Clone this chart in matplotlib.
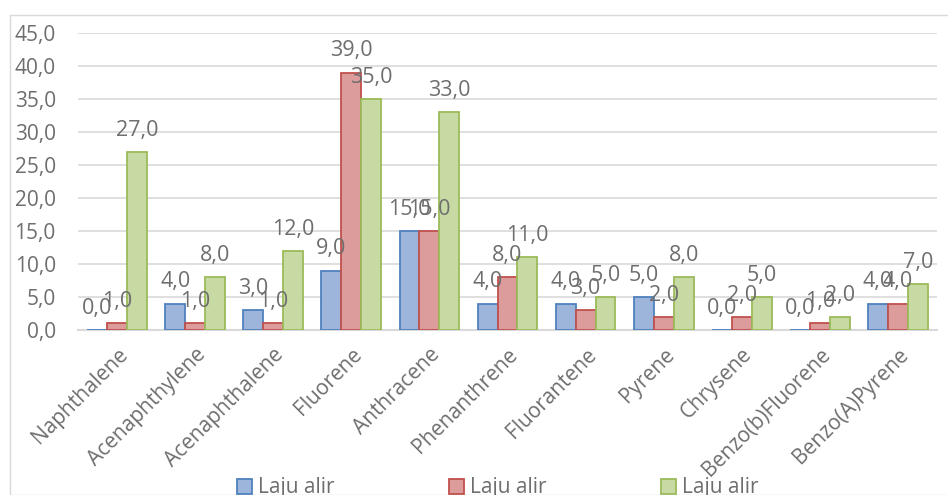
import matplotlib.pyplot as plt
import numpy as np
from matplotlib.patches import Rectangle, Patch

plt.rcParams["font.family"] = ["Open Sans", "DejaVu Sans"]

categories = ["Naphthalene", "Acenaphthylene", "Acenaphthalene", "Fluorene",
              "Anthracene", "Phenanthrene", "Fluorantene", "Pyrene",
              "Chrysene", "Benzo(b)Fluorene", "Benzo(A)Pyrene"]
series_names = ["Laju alir", "Laju alir", "Laju alir"]
blue_vals = [0, 4, 3, 9, 15, 4, 4, 5, 0, 0, 4]
red_vals = [1, 1, 1, 39, 15, 8, 3, 2, 2, 1, 4]
green_vals = [27, 8, 12, 35, 33, 11, 5, 8, 5, 2, 7]
y_ticks = [0, 5, 10, 15, 20, 25, 30, 35, 40, 45]

faces = ["#9DB5DA", "#DC9C9B", "#C7DAA3"]
edges = ["#4F81BD", "#C0504D", "#9BBB59"]
text_col = "#6E6E6E"
fs = 15

fig = plt.figure(figsize=(9.48, 4.95), dpi=100)
fig.patches.append(Rectangle((10 / 948, 0), 1, 1 - 15 / 495, transform=fig.transFigure,
                             fill=False, edgecolor="#D9D9D9", linewidth=1))
ax = fig.add_axes([78 / 948, 1 - 330 / 495, (937 - 78) / 948, (330 - 33) / 495])

x = np.arange(len(categories))
w = 0.255
for i, vals in enumerate([blue_vals, red_vals, green_vals]):
    pos = x + (i - 1) * w
    ax.bar(pos, vals, w, color=faces[i], edgecolor=edges[i], linewidth=1.3, zorder=3)
    for p, v in zip(pos, vals):
        ax.text(p, v + 1.7, f"{v:.1f}".replace(".", ","), ha="center", va="bottom",
                fontsize=fs + 0.5, color=text_col, zorder=4)

ax.set_xlim(-0.5, len(categories) - 0.5)
ax.set_ylim(0, 45)
ax.set_yticks(y_ticks)
ax.set_yticklabels([f"{t:.1f}".replace(".", ",") for t in y_ticks], fontsize=fs, color=text_col)
ax.set_xticks(x)
ax.set_xticklabels(categories, rotation=45, ha="right", rotation_mode="anchor",
                   fontsize=fs, color=text_col)
ax.tick_params(length=0)
ax.tick_params(axis="y", pad=16)
ax.tick_params(axis="x", pad=10)
ax.grid(axis="y", color="#D9D9D9", linewidth=1.2, zorder=0)
for s in ["top", "right", "left"]:
    ax.spines[s].set_visible(False)
ax.spines["bottom"].set_color("#D9D9D9")
ax.spines["bottom"].set_linewidth(1.5)

handles = [Patch(facecolor=faces[i], edgecolor=edges[i], linewidth=1.3) for i in range(3)]
fig.legend(handles, series_names, loc="center", bbox_to_anchor=(0.525, 1 - 488 / 495), ncol=3,
           frameon=False, fontsize=fs, labelcolor=text_col, columnspacing=5.5,
           handlelength=0.7, handleheight=0.7, handletextpad=0.3, borderpad=0)

fig.savefig("out.png", dpi=100)
